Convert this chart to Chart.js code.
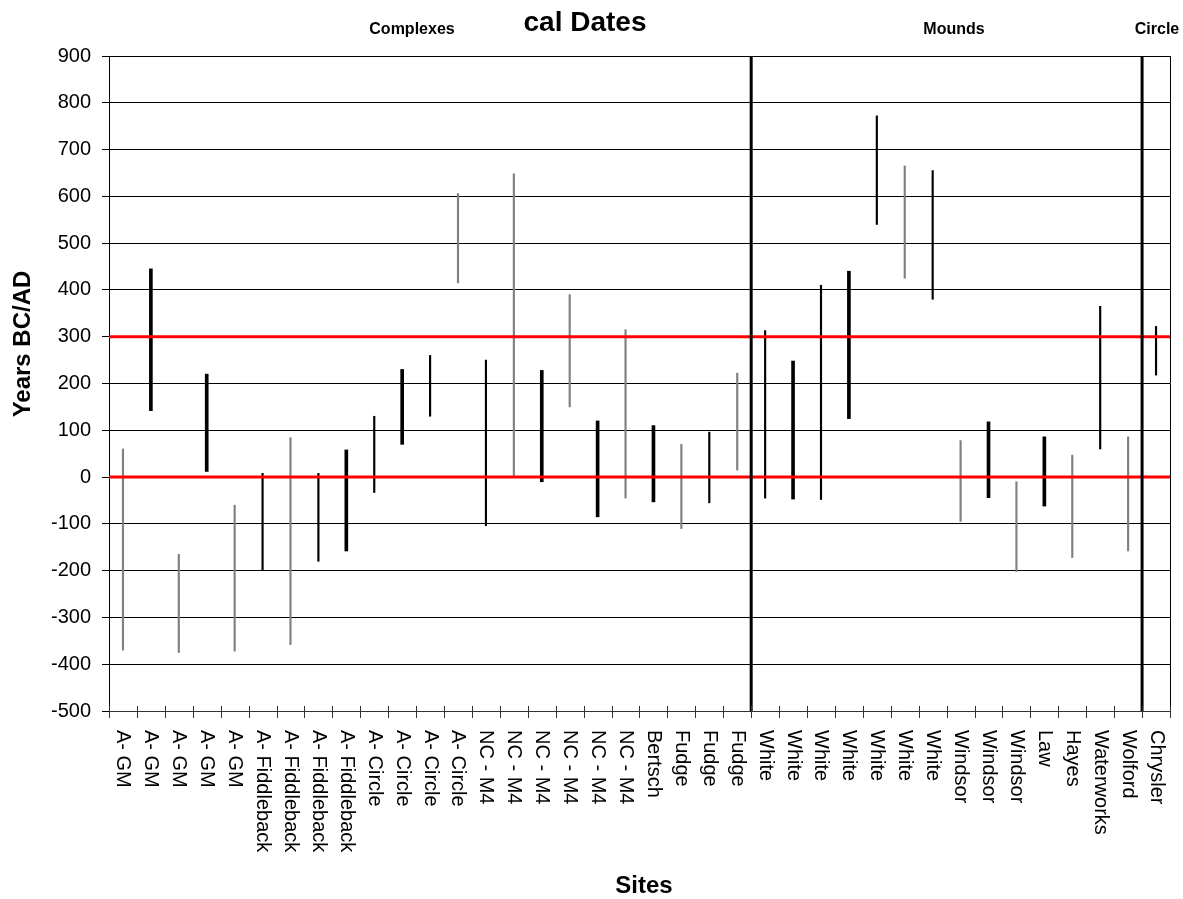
<!DOCTYPE html>
<html>
<head>
<meta charset="utf-8">
<title>cal Dates</title>
<script src="https://cdn.jsdelivr.net/npm/chart.js@4.4.1/dist/chart.umd.min.js"></script>
<style>
  body { margin: 0; background: #fff; }
  #wrap { width: 1183px; height: 899px; }
</style>
</head>
<body>
<div id="wrap"><canvas id="chart"></canvas></div>
<script>
// sites along the x axis
const sites = [
  "A- GM", "A- GM", "A- GM", "A- GM", "A- GM",
  "A- Fiddleback", "A- Fiddleback", "A- Fiddleback", "A- Fiddleback",
  "A- Circle", "A- Circle", "A- Circle", "A- Circle",
  "NC - M4", "NC - M4", "NC - M4", "NC - M4", "NC - M4", "NC - M4",
  "Bertsch", "Fudge", "Fudge", "Fudge",
  "White", "White", "White", "White", "White", "White", "White",
  "Windsor", "Windsor", "Windsor",
  "Law", "Hayes", "Waterworks", "Wolford", "Chrysler"
];

// calibrated date ranges (years BC/AD)
const lows  = [-370, 142, -375, 12, -372, -200, -358, -180, -158, -33, 70, 130, 415,
               -104, 3, -10, 150, -85, -45, -53, -110, -55, 15,
               -45, -47, -48, 125, 540, 425, 380, -95, -44, -202, -62, -172, 60, -158, 218];
const highs = [60, 445, -165, 220, -60, 8, 84, 8, 58, 130, 230, 260, 606,
               250, 648, 228, 390, 120, 315, 110, 70, 96, 222,
               313, 248, 410, 440, 772, 665, 655, 78, 118, -10, 86, 47, 365, 86, 322];
// kind of mark in the source: 0 = grey line, 1 = thin black, 2 = heavy black
const markType = [0, 2, 0, 2, 0, 1, 0, 1, 2, 1, 2, 1, 0,
                  1, 0, 2, 0, 2, 0, 2, 0, 1, 0,
                  1, 2, 1, 2, 1, 0, 1, 0, 2, 0, 2, 0, 1, 0, 1];

const yMin = -500, yMax = 900, yStep = 100;
const refLines = [0, 300];
const groupBreaks = [22, 36];          // divider after these site indexes
const groupNames = ["Complexes", "Mounds", "Circle"];

const FONT = "'Liberation Sans', Arial, sans-serif";
const markStyles = [
  { color: "#808080", width: 1.5 },
  { color: "#000000", width: 1.5 },
  { color: "#000000", width: 3 }
];

const datasets = markStyles.map((s, k) => ({
  data: sites.map((_, i) => markType[i] === k ? [lows[i], highs[i]] : null),
  backgroundColor: s.color,
  barThickness: s.width,
  grouped: false
}));

const decor = {
  id: "decor",
  afterDatasetsDraw(chart) {
    const { ctx, chartArea: a, scales: { x, y } } = chart;
    ctx.save();
    // red reference lines
    ctx.strokeStyle = "#ff0000";
    ctx.lineWidth = 3;
    refLines.forEach(v => {
      const py = y.getPixelForValue(v);
      ctx.beginPath(); ctx.moveTo(a.left, py); ctx.lineTo(a.right, py); ctx.stroke();
    });
    // group dividers
    ctx.strokeStyle = "#000";
    ctx.lineWidth = 3;
    groupBreaks.forEach(i => {
      const px = (x.getPixelForValue(i) + x.getPixelForValue(i + 1)) / 2;
      ctx.beginPath(); ctx.moveTo(px, a.top); ctx.lineTo(px, a.bottom); ctx.stroke();
    });
    // right frame
    ctx.lineWidth = 1;
    ctx.beginPath(); ctx.moveTo(a.right + 0.5, a.top); ctx.lineTo(a.right + 0.5, a.bottom); ctx.stroke();
    // x tick marks at category boundaries
    const w = x.getPixelForValue(1) - x.getPixelForValue(0);
    ctx.strokeStyle = "#333";
    for (let i = 0; i <= sites.length; i++) {
      const px = Math.round(x.getPixelForValue(0) - w / 2 + i * w) + 0.5;
      ctx.beginPath(); ctx.moveTo(px, a.bottom - 5); ctx.lineTo(px, a.bottom + 7); ctx.stroke();
    }
    ctx.restore();
  },
  afterDraw(chart) {
    const { ctx, chartArea: a, scales: { x } } = chart;
    ctx.save();
    ctx.fillStyle = "#000";
    // site labels, rotated to read downwards
    ctx.font = "20px " + FONT;
    ctx.textAlign = "left";
    ctx.textBaseline = "middle";
    sites.forEach((s, i) => {
      ctx.save();
      ctx.translate(x.getPixelForValue(i), a.bottom + 19);
      ctx.rotate(Math.PI / 2);
      ctx.fillText(s, 0, 0);
      ctx.restore();
    });
    // titles
    ctx.textAlign = "center";
    ctx.font = "bold 28px " + FONT;
    ctx.fillText("cal Dates", 585, 23);
    ctx.font = "bold 16px " + FONT;
    ctx.fillText(groupNames[0], 412, 30);
    ctx.fillText(groupNames[1], 954, 30);
    ctx.fillText(groupNames[2], 1157, 30);
    ctx.font = "bold 24px " + FONT;
    ctx.fillText("Sites", 644, 886);
    ctx.save();
    ctx.translate(23, 344);
    ctx.rotate(-Math.PI / 2);
    ctx.fillText("Years BC/AD", 0, 0);
    ctx.restore();
    ctx.restore();
  }
};

new Chart(document.getElementById("chart"), {
  type: "bar",
  data: { labels: sites, datasets: datasets },
  options: {
    responsive: true,
    maintainAspectRatio: false,
    animation: false,
    layout: { padding: { top: 56, right: 13, left: 0, bottom: 0 } },
    plugins: { legend: { display: false }, tooltip: { enabled: false } },
    scales: {
      x: {
        type: "category",
        grid: { display: false },
        ticks: { display: false },
        border: { display: true, color: "#333", width: 1 },
        afterFit: s => { s.height = 188; }
      },
      y: {
        min: yMin,
        max: yMax,
        ticks: { stepSize: yStep, color: "#000", padding: 11, font: { size: 20, family: FONT } },
        grid: { color: "#000", lineWidth: 1, tickLength: 7 },
        border: { display: true, color: "#000", width: 1 },
        afterFit: s => { s.width = 109; }
      }
    }
  },
  plugins: [decor]
});
</script>
</body>
</html>
